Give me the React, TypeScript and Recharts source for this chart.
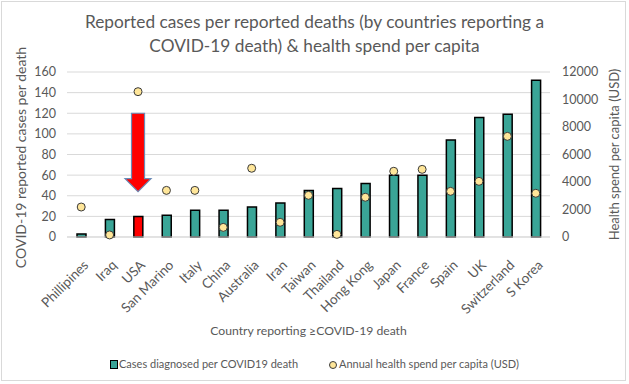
import React from 'react';
import {
  ComposedChart,
  Bar,
  Scatter,
  Cell,
  XAxis,
  YAxis,
  CartesianGrid,
  ReferenceArea,
} from 'recharts';

const countries = [
  'Phillipines', 'Iraq', 'USA', 'San Marino', 'Italy', 'China', 'Australia', 'Iran', 'Taiwan',
  'Thailand', 'Hong Kong', 'Japan', 'France', 'Spain', 'UK', 'Switzerland', 'S Korea',
];
const casesPerDeath = [3, 17, 20, 21, 26, 26, 29, 33, 45, 47, 52, 60, 60, 94, 116, 119, 152];
const healthSpend = [2180, 150, 10570, 3390, 3390, 700, 5000, 1070, 3030, 190, 2890, 4780, 4920, 3320, 4050, 7320, 3180];
const leftTicks = [0, 20, 40, 60, 80, 100, 120, 140, 160];
const rightTicks = [0, 2000, 4000, 6000, 8000, 10000, 12000];
// arrow pointing at the USA bar, in left-axis units
const arrowFrom = 120;
const arrowTo = 44;

const data = countries.map((name, i) => ({ name, cases: casesPerDeath[i], spend: healthSpend[i] }));

const FONT = 'Lato, "Open Sans", sans-serif';
const GREY = '#595959';
const TEAL = '#3AA597';
const DOT = '#FFE699';

const XTick = ({ x, y, payload }: any) => {
  const ax = x + 8;
  const ay = y + 21;
  return (
    <text
      x={ax}
      y={ay}
      transform={`rotate(-45 ${ax} ${ay})`}
      textAnchor="end"
      fill={GREY}
      fontSize={13.5}
      fontFamily={FONT}
    >
      {payload.value}
    </text>
  );
};

const Dot = ({ cx, cy }: any) => (
  <circle cx={cx} cy={cy} r={4} fill={DOT} stroke="#3a3a3a" strokeWidth={1} />
);

const Arrow = ({ x, y, width, height }: any) => {
  const cx = x + width / 2;
  const shaft = 6.5;
  const head = 13;
  const headH = 13;
  const bottom = y + height;
  const pts = [
    [cx - shaft, y],
    [cx + shaft, y],
    [cx + shaft, bottom - headH],
    [cx + head, bottom - headH],
    [cx, bottom],
    [cx - head, bottom - headH],
    [cx - shaft, bottom - headH],
  ]
    .map((p) => p.join(','))
    .join(' ');
  return <polygon points={pts} fill="#FF0000" stroke="#6A8CB8" strokeWidth={1.2} />;
};

export default function App() {
  return (
    <div style={{ position: 'absolute', left: 0, top: 0, width: 629, height: 384, background: '#fff', fontFamily: FONT }}>
      <div
        style={{
          position: 'absolute',
          left: 1,
          top: 1,
          width: 625,
          height: 380,
          border: '1px solid #d9d9d9',
          boxSizing: 'border-box',
        }}
      />
      <div
        style={{
          position: 'absolute',
          left: 0,
          top: 10,
          width: 629,
          textAlign: 'center',
          color: GREY,
          fontSize: 17.3,
          lineHeight: '24px',
        }}
      >
        Reported cases per reported deaths (by countries reporting a
        <br />
        COVID-19 death) &amp; health spend per capita
      </div>
      <ComposedChart
        width={629}
        height={384}
        data={data}
        margin={{ top: 72, right: 0, bottom: 47, left: 0 }}
        style={{ position: 'absolute', left: 0, top: 0 }}
      >
        <CartesianGrid yAxisId="left" vertical={false} stroke="#d9d9d9" strokeWidth={1} />
        <XAxis
          dataKey="name"
          interval={0}
          height={100}
          tick={<XTick />}
          tickLine={false}
          axisLine={{ stroke: '#d9d9d9' }}
          label={{
            value: 'Country reporting ≥COVID-19 death',
            position: 'insideBottom',
            offset: 2,
            fill: GREY,
            fontSize: 12.2,
            fontFamily: FONT,
          }}
        />
        <YAxis
          yAxisId="left"
          orientation="left"
          width={67}
          domain={[0, 160]}
          ticks={leftTicks}
          interval={0}
          tickLine={false}
          axisLine={false}
          tickMargin={5}
          tick={{ fill: GREY, fontSize: 12.5, fontFamily: FONT }}
          label={{
            value: 'COVID-19 reported  cases per death',
            angle: -90,
            position: 'insideLeft',
            offset: 0,
            dx: 21,
            dy: 3,
            style: { textAnchor: 'middle' },
            fill: GREY,
            fontSize: 14,
            fontFamily: FONT,
          }}
        />
        <YAxis
          yAxisId="right"
          orientation="right"
          width={79}
          domain={[0, 12000]}
          ticks={rightTicks}
          interval={0}
          tickLine={false}
          axisLine={false}
          tickMargin={6}
          tick={{ fill: GREY, fontSize: 12.5, fontFamily: FONT }}
          label={{
            value: 'Health spend per capita (USD)',
            angle: -90,
            position: 'insideRight',
            offset: 0,
            dx: -15,
            style: { textAnchor: 'middle' },
            fill: GREY,
            fontSize: 13,
            fontFamily: FONT,
          }}
        />
        <Bar
          yAxisId="left"
          dataKey="cases"
          barSize={9}
          fill={TEAL}
          stroke="#000"
          strokeWidth={1.5}
          isAnimationActive={false}
        >
          {data.map((d) => (
            <Cell key={d.name} fill={d.name === 'USA' ? '#FF0000' : TEAL} />
          ))}
        </Bar>
        <Scatter yAxisId="right" dataKey="spend" shape={<Dot />} isAnimationActive={false} />
        <ReferenceArea
          yAxisId="left"
          x1="USA"
          x2="USA"
          y1={arrowTo}
          y2={arrowFrom}
          shape={<Arrow />}
        />
      </ComposedChart>
      <div
        style={{
          position: 'absolute',
          top: 357,
          left: 0,
          width: 629,
          fontSize: 11,
          color: GREY,
        }}
      >
        <span style={{ position: 'absolute', left: 110, top: 3, width: 6, height: 7, background: TEAL, border: '1px solid #000' }} />
        <span style={{ position: 'absolute', left: 119, top: 0, whiteSpace: 'nowrap' }}>Cases diagnosed per COVID19 death</span>
        <span style={{ position: 'absolute', left: 329, top: 4, width: 6, height: 6, borderRadius: '50%', background: DOT, border: '1px solid #3a3a3a' }} />
        <span style={{ position: 'absolute', left: 339, top: 0, whiteSpace: 'nowrap' }}>Annual health spend per capita (USD)</span>
      </div>
    </div>
  );
}
